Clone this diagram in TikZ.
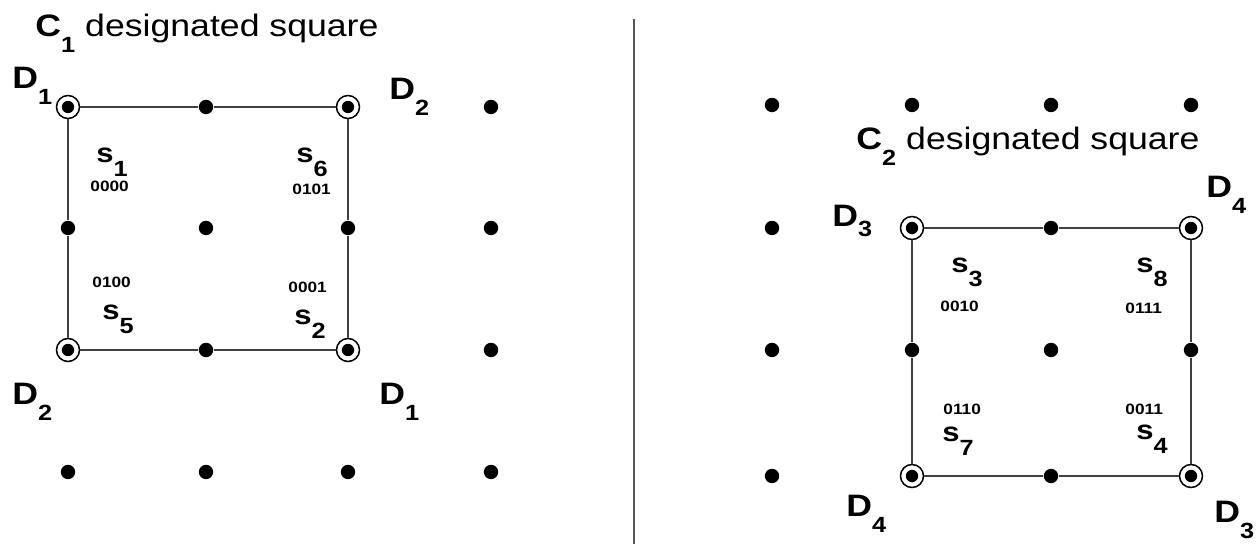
\documentclass[tikz,border=0pt]{standalone}
\usepackage{fontspec}
\setmainfont{Liberation Sans}
\newcommand{\bigsub}[2]{\textbf{#1}\raisebox{-8pt}{\fontsize{11}{11}\selectfont\bfseries #2}}
\newcommand{\lowsub}[2]{\textbf{#1}\raisebox{-7pt}{\fontsize{11}{11}\selectfont\bfseries #2}}

\tikzset{
  dot/.style={circle, fill=black, inner sep=0pt, minimum size=7.2pt},
  corner/.style={circle, draw, line width=0.75pt, fill=white, inner sep=0pt,
    minimum size=11.5pt,
    path picture={\fill[black] (path picture bounding box.center) circle (3.1pt);}},
  side/.style={draw=black!75, line width=0.75pt},
  lab/.style={anchor=base west, inner sep=0pt, xscale=1.15,
    font=\fontsize{15.5}{15.5}\selectfont},
  slab/.style={lab, font=\fontsize{13.5}{13.5}\selectfont},
  code/.style={lab, font=\fontsize{7.5}{7.5}\selectfont\bfseries}
}

\begin{document}
\begin{tikzpicture}[x=0.5pt, y=-0.5pt]
  \useasboundingbox (0,0) rectangle (1260,544);
  % left lattice
  \foreach \x [count=\i] in {68,206,348,491}
    \foreach \y [count=\j] in {107,228,350,472}
      \node[dot] (L\j\i) at (\x,\y) {};
  % right lattice
  \foreach \x [count=\i] in {772,912,1051,1191}
    \foreach \y [count=\j] in {105,228,350,476}
      \node[dot] (R\j\i) at (\x,\y) {};
  \foreach \n in {L11,L13,L31,L33,R22,R24,R42,R44}
    \node[corner] (c\n) at (\n) {};
  % designated squares
  \draw[side] (cL11) -- (L12) -- (cL13) -- (L23) -- (cL33) -- (L32) -- (cL31)
    -- (L21) -- (cL11);
  \draw[side] (cR22) -- (R23) -- (cR24) -- (R34) -- (cR44) -- (R43) -- (cR42)
    -- (R32) -- (cR22);
  % separator
  \coordinate (septop) at (634,19);
  \coordinate (sepbot) at (634,544);
  \draw[black!65, line width=0.6pt] (septop) -- (sepbot);

  \node[lab] (title1) at (35,37) {\bigsub{C}{1} designated square};
  \node[lab] (d1a) at (12,89) {\bigsub{D}{1}};
  \node[lab] (d2a) at (389,100) {\bigsub{D}{2}};
  \node[lab] (d2b) at (12,405) {\bigsub{D}{2}};
  \node[lab] (d1b) at (379,405) {\bigsub{D}{1}};
  \node[slab] (s1) at (96,163) {\lowsub{s}{1}};
  \node[code] (b1) at (90,192) {0000};
  \node[slab] (s6) at (296,163) {\lowsub{s}{6}};
  \node[code] (b6) at (292,195) {0101};
  \node[code] (b5) at (92,288) {0100};
  \node[slab] (s5) at (102,320) {\lowsub{s}{5}};
  \node[code] (b2) at (288,293) {0001};
  \node[slab] (s2) at (294,325) {\lowsub{s}{2}};

  \node[lab] (title2) at (856,150) {\bigsub{C}{2} designated square};
  \node[lab] (d3a) at (832,227) {\textbf{D}\raisebox{-5pt}{\fontsize{11}{11}\selectfont\bfseries 3}};
  \node[lab] (d4a) at (1206,198) {\bigsub{D}{4}};
  \node[lab] (d4b) at (846,517) {\bigsub{D}{4}};
  \node[lab] (d3b) at (1214,523) {\bigsub{D}{3}};
  \node[slab] (s3) at (951,273) {\lowsub{s}{3}};
  \node[code] (b3) at (940,312) {0010};
  \node[slab] (s8) at (1136,273) {\lowsub{s}{8}};
  \node[code] (b8) at (1125,314) {0111};
  \node[code] (b7) at (943,415) {0110};
  \node[slab] (s7) at (942,442) {\lowsub{s}{7}};
  \node[code] (b4) at (1125,415) {0011};
  \node[slab] (s4) at (1136,440) {\lowsub{s}{4}};
\end{tikzpicture}
\end{document}
